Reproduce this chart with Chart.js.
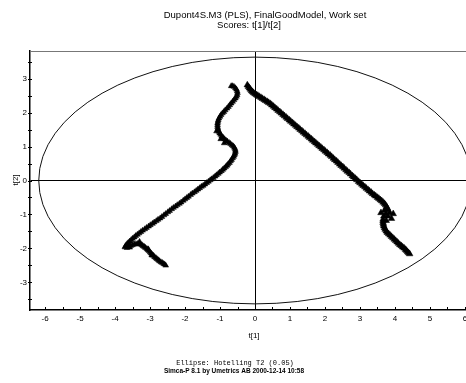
<!DOCTYPE html>
<html>
<head>
<meta charset="utf-8">
<script src="https://cdn.jsdelivr.net/npm/chart.js@4/dist/chart.umd.min.js"></script>
<style>
  html, body { margin: 0; padding: 0; overflow: hidden; background: #fff; }
  #wrap { width: 466px; height: 383px; overflow: hidden; position: relative; }
  canvas { display: block; }
</style>
</head>
<body>
<div id="wrap"><canvas id="c" width="490" height="383"></canvas></div>
<script>
// Score plot t[1]/t[2] – two groups of observations
const leftT1 = [-0.68,-0.60,-0.53,-0.50,-0.53,-0.60,-0.68,-0.76,-0.85,-0.93,-1.00,-1.05,-1.07,-1.07,-1.05,-1.01,-0.95,-0.87,-0.79,-0.70,-0.62,-0.57,-0.56,-0.59,-0.64,-0.70,-0.77,-0.84,-0.92,-1.01,-1.10,-1.19,-1.28,-1.38,-1.48,-1.58,-1.68,-1.79,-1.90,-2.00,-2.11,-2.22,-2.33,-2.44,-2.55,-2.66,-2.77,-2.88,-2.99,-3.10,-3.21,-3.31,-3.41,-3.50,-3.58,-3.65,-3.70,-3.66,-3.58,-3.62,-3.55,-3.45,-3.35,-3.27,-3.20,-3.13,-3.06,-3.00,-2.94,-2.87,-2.80,-2.73,-2.65,-2.58,-1.10,-0.98,-0.88,-3.30,-3.05,-2.95,
  -0.64,-0.56,-0.51,-0.51,-0.56,-0.64,-0.72,-0.80,-0.89,-0.97,-1.03,-1.06,-1.07,-1.06,-1.03,-0.98,-0.91,-0.83,-0.74,-0.66,-0.59,-0.56,-0.57,-0.61,-0.67,-0.73,-0.80,-0.88,-0.96,-1.05,-1.14,-1.24,-1.33,-1.43,-1.53,-1.63,-1.73,-1.84,-1.95,-2.05,-2.16,-2.27,-2.38,-2.49,-2.60,-2.71,-2.82,-2.93,-3.04,-3.15,-3.26,-3.36,-3.45,-3.54,-3.62,-3.68,-3.72,-3.50,-3.40,-3.31,-3.23,-3.16,-3.09,-3.03,-2.97,-2.90,-2.83,-2.76,-2.69,-2.61,-2.55];
const leftT2 = [2.78,2.76,2.68,2.58,2.47,2.37,2.27,2.17,2.07,1.98,1.88,1.78,1.68,1.58,1.48,1.39,1.30,1.22,1.15,1.08,1.01,0.93,0.84,0.75,0.66,0.57,0.48,0.40,0.32,0.24,0.16,0.08,0.01,-0.07,-0.15,-0.22,-0.30,-0.38,-0.47,-0.55,-0.64,-0.72,-0.80,-0.89,-0.98,-1.07,-1.15,-1.23,-1.31,-1.39,-1.47,-1.55,-1.63,-1.71,-1.79,-1.86,-1.93,-1.98,-1.97,-1.90,-1.92,-1.88,-1.86,-1.88,-1.93,-1.98,-2.04,-2.11,-2.18,-2.25,-2.31,-2.37,-2.42,-2.47,1.45,1.22,1.10,-1.80,-2.02,-2.20,
  2.78,2.72,2.63,2.52,2.42,2.32,2.22,2.12,2.02,1.93,1.83,1.73,1.63,1.53,1.44,1.35,1.26,1.18,1.11,1.04,0.97,0.88,0.79,0.70,0.61,0.52,0.44,0.36,0.28,0.20,0.12,0.04,-0.03,-0.11,-0.18,-0.26,-0.34,-0.42,-0.51,-0.59,-0.68,-0.76,-0.84,-0.93,-1.02,-1.11,-1.19,-1.27,-1.35,-1.43,-1.51,-1.59,-1.67,-1.75,-1.83,-1.90,-1.96,-1.90,-1.87,-1.87,-1.90,-1.95,-2.01,-2.07,-2.14,-2.21,-2.28,-2.34,-2.40,-2.45,-2.50];

const rightT1 = [-0.22,-0.16,-0.10,-0.04,0.04,0.12,0.21,0.30,0.39,0.48,0.57,0.66,0.75,0.84,0.93,1.02,1.11,1.20,1.29,1.38,1.47,1.56,1.65,1.74,1.83,1.92,2.01,2.10,2.19,2.28,2.37,2.46,2.55,2.64,2.73,2.82,2.91,3.00,3.09,3.18,3.27,3.36,3.45,3.54,3.62,3.70,3.76,3.80,3.70,3.85,3.74,3.68,3.80,3.66,3.66,3.68,3.72,3.78,3.86,3.94,4.02,4.10,4.18,4.26,4.33,4.39,3.95,3.90,3.75,3.60,
  -0.19,-0.13,-0.07,0.00,0.08,0.17,0.26,0.35,0.44,0.53,0.62,0.71,0.80,0.89,0.98,1.07,1.16,1.25,1.34,1.43,1.52,1.61,1.70,1.79,1.88,1.97,2.06,2.15,2.24,2.33,2.42,2.51,2.60,2.69,2.78,2.87,2.96,3.05,3.14,3.23,3.32,3.41,3.50,3.58,3.66,3.73,3.78,3.66,3.67,3.70,3.75,3.82,3.90,3.98,4.06,4.14,4.22,4.30,4.36,4.42];
const rightT2 = [2.81,2.72,2.64,2.58,2.52,2.47,2.41,2.35,2.29,2.22,2.14,2.06,1.98,1.90,1.82,1.74,1.66,1.58,1.50,1.42,1.34,1.26,1.18,1.10,1.02,0.94,0.86,0.78,0.70,0.61,0.53,0.44,0.36,0.27,0.19,0.10,0.02,-0.07,-0.15,-0.23,-0.31,-0.39,-0.46,-0.53,-0.60,-0.68,-0.77,-0.86,-0.88,-0.95,-0.98,-1.05,-1.05,-1.14,-1.24,-1.34,-1.44,-1.53,-1.61,-1.69,-1.77,-1.85,-1.92,-1.99,-2.06,-2.13,-0.98,-1.12,-1.18,-0.95,
  2.76,2.68,2.61,2.55,2.50,2.44,2.38,2.32,2.26,2.18,2.10,2.02,1.94,1.86,1.78,1.70,1.62,1.54,1.46,1.38,1.30,1.22,1.14,1.06,0.98,0.90,0.82,0.74,0.65,0.57,0.48,0.40,0.31,0.23,0.14,0.06,-0.03,-0.11,-0.19,-0.27,-0.35,-0.43,-0.50,-0.57,-0.64,-0.72,-0.81,-1.19,-1.29,-1.39,-1.49,-1.57,-1.65,-1.73,-1.81,-1.89,-1.96,-2.03,-2.10,-2.16];

// Hotelling T2 (0.05) ellipse semi-axes in score units
const ellipseT1 = 6.18;
const ellipseT2 = 3.63;

const xTicks = [-6,-5,-4,-3,-2,-1,0,1,2,3,4,5,6];
const yTicks = [-3,-2,-1,0,1,2,3];

const titleLines = ['Dupont4S.M3 (PLS), FinalGoodModel, Work set', 'Scores: t[1]/t[2]'];
const xTitle = 't[1]';
const yTitle = 't[2]';
const footerLines = ['Ellipse: Hotelling T2 (0.05)', 'Simca-P 8.1 by Umetrics AB 2000-12-14 10:58'];

const toPoints = (xs, ys) => xs.map((v, i) => ({ x: v, y: ys[i] }));

const SANS = '"Liberation Sans", Arial, sans-serif';

const ellipsePlugin = {
  id: 'hotelling',
  beforeDatasetsDraw(chart) {
    const { ctx, scales: { x, y } } = chart;
    const cx = x.getPixelForValue(0), cy = y.getPixelForValue(0);
    const rx = x.getPixelForValue(ellipseT1) - cx;
    const ry = cy - y.getPixelForValue(ellipseT2);
    ctx.save();
    ctx.strokeStyle = '#111';
    ctx.lineWidth = 1;
    ctx.beginPath();
    ctx.ellipse(cx, cy, rx, ry, 0, 0, Math.PI * 2);
    ctx.stroke();
    ctx.restore();
  }
};

const frameAndTextPlugin = {
  id: 'frameText',
  afterDraw(chart) {
    const { ctx, chartArea: a, scales: { x, y } } = chart;
    ctx.save();
    // top frame edge
    ctx.strokeStyle = '#777';
    ctx.lineWidth = 1;
    ctx.beginPath();
    ctx.moveTo(a.left, a.top + 0.5);
    ctx.lineTo(a.right, a.top + 0.5);
    ctx.stroke();
    // tick marks (inside for x, crossing for y)
    ctx.strokeStyle = '#000';
    ctx.beginPath();
    x.ticks.forEach(t => {
      const px = Math.round(x.getPixelForValue(t.value)) + 0.5;
      ctx.moveTo(px, a.bottom);
      ctx.lineTo(px, a.bottom - 3);
    });
    y.ticks.forEach(t => {
      const py = Math.round(y.getPixelForValue(t.value)) + 0.5;
      ctx.moveTo(a.left - 2, py);
      ctx.lineTo(a.left + 2, py);
    });
    ctx.stroke();

    ctx.fillStyle = '#000';
    ctx.textBaseline = 'middle';
    ctx.textAlign = 'center';
    ctx.font = '9.5px ' + SANS;
    ctx.fillText(titleLines[0], 265, 15);
    ctx.fillText(titleLines[1], 249, 25);

    ctx.font = '8px ' + SANS;
    ctx.fillText(xTitle, 254, 336);
    ctx.save();
    ctx.translate(16, 180);
    ctx.rotate(-Math.PI / 2);
    ctx.fillText(yTitle, 0, 0);
    ctx.restore();

    ctx.font = '7px "Liberation Mono", "Courier New", monospace';
    ctx.fillText(footerLines[0], 235, 363);
    ctx.font = 'bold 6.5px ' + SANS;
    ctx.fillText(footerLines[1], 234, 371);
    ctx.restore();
  }
};

const halfStepTicks = (list) => (value) => list.includes(value) ? String(value) : '';

new Chart(document.getElementById('c'), {
  type: 'scatter',
  data: {
    datasets: [
      { data: toPoints(leftT1, leftT2), pointStyle: 'triangle', pointRadius: 3.3,
        backgroundColor: '#000', borderColor: '#000', borderWidth: 0.5 },
      { data: toPoints(rightT1, rightT2), pointStyle: 'triangle', pointRadius: 3.8,
        backgroundColor: '#000', borderColor: '#000', borderWidth: 0.5 }
    ]
  },
  options: {
    responsive: false,
    animation: false,
    events: [],
    layout: { padding: { left: 0, right: 10, top: 51, bottom: 0 } },
    plugins: { legend: { display: false }, title: { display: false }, tooltip: { enabled: false } },
    scales: {
      x: {
        type: 'linear', min: -6.43, max: 6.43,
        afterFit: s => { s.height = 73; },
        border: { display: true, color: '#000', width: 1.5 },
        grid: { drawTicks: false, color: c => c.tick && c.tick.value === 0 ? '#000' : 'rgba(0,0,0,0)', lineWidth: 1 },
        ticks: { stepSize: 0.5, includeBounds: false, autoSkip: false, maxRotation: 0, padding: 4,
                 color: '#000', font: { family: SANS, size: 8 }, callback: halfStepTicks(xTicks) }
      },
      y: {
        type: 'linear', min: -3.81, max: 3.81,
        afterFit: s => { s.width = 30; },
        border: { display: true, color: '#000', width: 1.5 },
        grid: { drawTicks: false, color: c => c.tick && c.tick.value === 0 ? '#000' : 'rgba(0,0,0,0)', lineWidth: 1 },
        ticks: { stepSize: 0.5, includeBounds: false, autoSkip: false, padding: 3,
                 color: '#000', font: { family: SANS, size: 8 }, callback: halfStepTicks(yTicks) }
      }
    }
  },
  plugins: [ellipsePlugin, frameAndTextPlugin]
});
</script>
</body>
</html>
